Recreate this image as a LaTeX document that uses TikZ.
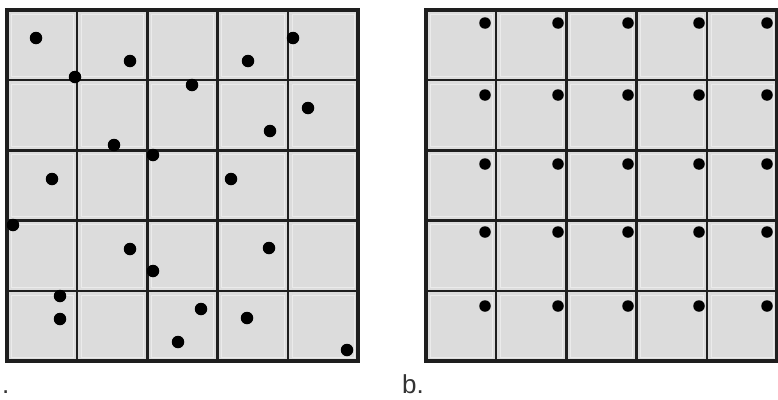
\documentclass[tikz,border=0pt]{standalone}
\usepackage{fontspec}
\setmainfont{Liberation Sans}
\definecolor{cellgray}{HTML}{DCDCDC}
\definecolor{gridcol}{HTML}{1E1E1E}
\definecolor{labelcol}{HTML}{333333}
\begin{document}
\begin{tikzpicture}[x=1pt,y=-1pt,
  cellfill/.style={fill=cellgray},
  innerline/.style={draw=gridcol, line width=2.4pt},
  outerline/.style={draw=gridcol, line width=3.2pt},
  insetline/.style={draw=white, line width=0.6pt, opacity=0.45},
  dotmark/.style={circle, fill=black, inner sep=0pt, minimum size=12.5pt},
  rdotmark/.style={circle, fill=black, inner sep=0pt, minimum size=11.5pt},
  lbl/.style={font=\fontsize{26}{28}\selectfont, text=labelcol, inner sep=0pt, anchor=base west}]
\useasboundingbox (0,0) rectangle (778,399);
% ---- left grid ----
\fill[cellfill] (7,10) rectangle (358,361);
\foreach \i in {0,...,4}{
  \foreach \j in {0,...,4}{
    \draw[insetline] ({7+70.2*\i+4},{10+70.2*\j+4}) rectangle ({7+70.2*(\i+1)-4},{10+70.2*(\j+1)-4});
  }
}
\foreach \i in {1,...,4}{
  \draw[innerline] ({7+70.2*\i},10) -- ({7+70.2*\i},361);
  \draw[innerline] (7,{10+70.2*\i}) -- (358,{10+70.2*\i});
}
\draw[outerline] (7,10) rectangle (358,361);
% ---- right grid ----
\fill[cellfill] (426,10) rectangle (777,361);
\foreach \i in {0,...,4}{
  \foreach \j in {0,...,4}{
    \draw[insetline] ({426+70.2*\i+4},{10+70.2*\j+4}) rectangle ({426+70.2*(\i+1)-4},{10+70.2*(\j+1)-4});
  }
}
\foreach \i in {1,...,4}{
  \draw[innerline] ({426+70.2*\i},10) -- ({426+70.2*\i},361);
  \draw[innerline] (426,{10+70.2*\i}) -- (777,{10+70.2*\i});
}
\draw[outerline] (426,10) rectangle (777,361);
% ---- left dots (random) ----
\foreach \x/\y [count=\i] in {36/38, 293/38, 130/61, 248/61, 75/77, 192/85, 308/108,
  270/131, 114/145, 153/155, 52/179, 231/179, 13/225, 130/249, 269/248, 153/271,
  60/296, 60/319, 201/309, 247/318, 178/342, 347/350}
  \node[dotmark] (p\i) at (\x,\y) {};
% ---- right dots (regular) ----
\foreach \x [count=\i] in {485,558,628,699,767}{
  \foreach \y [count=\j] in {23,95,164,232,306}{
    \node[rdotmark] (q\i\j) at (\x,\y) {};
  }
}
% ---- labels ----
\node[lbl] (la) at (2,393) {.};
\node[lbl] (lb) at (402,393) {b.};
\end{tikzpicture}
\end{document}
